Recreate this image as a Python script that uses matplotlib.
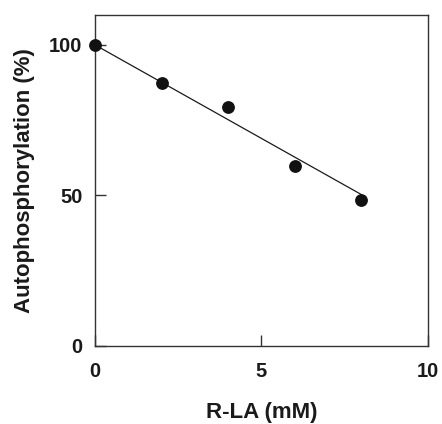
import numpy as np
import matplotlib
matplotlib.use("Agg")
import matplotlib.pyplot as plt

# R-LA dose response of autophosphorylation
conc_mM = [0, 2, 4, 6, 8]
autophos_pct = [100, 87.4, 79.3, 59.6, 48.4]

# linear trend drawn through the points
fit_intercept = 100.0
fit_slope = -6.22
fit_range = [0, 8]

plt.rcParams['font.family'] = ['Liberation Sans', 'DejaVu Sans']
plt.rcParams['font.weight'] = 'bold'

fig = plt.figure(figsize=(4.42, 4.24), dpi=100)
ax = fig.add_axes([0.215, 0.185, 0.753, 0.78])

xs = np.array(fit_range, dtype=float)
ax.plot(xs, fit_intercept + fit_slope * xs, color="#1a1a1a", lw=0.9, zorder=2)
ax.plot(conc_mM, autophos_pct, "o", color="#111111", ms=8.2, clip_on=False, zorder=3)

ax.set_xlim(0, 10)
ax.set_ylim(0, 110)
ax.set_xticks([0, 5, 10])
ax.set_yticks([0, 50, 100])
ax.tick_params(direction="in", length=8, width=1, labelsize=14.5, pad=9, color="#333333")
ax.tick_params(axis="x", pad=12)
for lab in ax.get_xticklabels() + ax.get_yticklabels():
    lab.set_fontweight("bold")
    lab.set_color("#1a1a1a")
for sp in ax.spines.values():
    sp.set_linewidth(1.0)
    sp.set_color("#333333")

ax.set_xlabel("R-LA (mM)", fontsize=16, fontweight="bold", color="#1a1a1a", labelpad=15)
ax.set_ylabel("Autophosphorylation (%)", fontsize=16, fontweight="bold", color="#1a1a1a", labelpad=10)

fig.savefig("out.png", dpi=100)
